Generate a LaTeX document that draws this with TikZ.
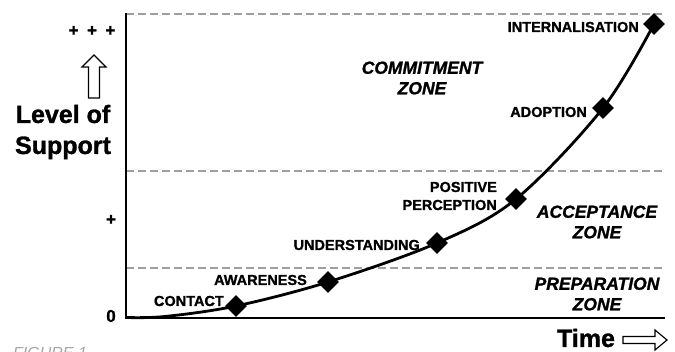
\documentclass[tikz,border=0pt]{standalone}
\usepackage{fontspec}
\setmainfont{Liberation Sans}[BoldFeatures={FakeBold=1.2}, BoldItalicFeatures={FakeBold=1.2}]
\usetikzlibrary{shapes.geometric, positioning}

\begin{document}
\begin{tikzpicture}[x=1pt, y=-1pt,
    stage/.style={diamond, fill=black, inner sep=0pt, minimum size=22pt},
    stage_label/.style={font=\fontsize{14.5}{18}\selectfont\bfseries, inner sep=0pt},
    zone_label/.style={font=\fontsize{17.5}{20.5}\selectfont\bfseries\itshape, align=center, inner sep=0pt},
    scale_label/.style={font=\fontsize{17}{18}\selectfont\bfseries, inner sep=0pt},
    axis_title/.style={font=\fontsize{25}{31}\selectfont\bfseries, inner sep=0pt},
    zone_line/.style={draw=gray!75, line width=2pt, dash pattern=on 8pt off 4pt},
    axis_line/.style={draw=black, line width=2.6pt},
    curve_line/.style={draw=black, line width=2.8pt},
    hollow_arrow/.style={draw=black, line width=1.2pt, fill=white, line join=miter}
]

\useasboundingbox (0,0) rectangle (675,352);

% Axis corners and zone borders
\coordinate (top) at (126,13);
\coordinate (origin) at (126,318);
\coordinate (xend) at (665,318);
\coordinate (knee) at (165,316.5);

% Zone borders
\draw[zone_line] (126,14) -- (665,14);
\draw[zone_line] (126,171) -- (665,171);
\draw[zone_line] (126,268) -- (665,268);

% Axes
\draw[axis_line] (top) -- (origin) -- (xend);

% Stages on the curve
\node[stage] (contact) at (236,306) {};
\node[stage] (awareness) at (328,282) {};
\node[stage] (understanding) at (437,243) {};
\node[stage] (positive) at (516,199) {};
\node[stage] (adoption) at (603,108) {};
\node[stage] (internal) at (654,24) {};

% Support curve
\draw[curve_line] plot[smooth, tension=0.55] coordinates {(126,317.5) (knee) (contact) (awareness) (understanding) (positive) (adoption) (internal)};

% Stage labels
\node[stage_label, anchor=east] (contact_txt) at (224,301) {CONTACT};
\node[stage_label, anchor=east] (awareness_txt) at (307,280) {AWARENESS};
\node[stage_label, anchor=east] (understanding_txt) at (420,245) {UNDERSTANDING};
\node[stage_label, anchor=east, align=right] (positive_txt) at (497,196) {POSITIVE\\PERCEPTION};
\node[stage_label, anchor=east] (adoption_txt) at (587,112) {ADOPTION};
\node[stage_label, anchor=east] (internal_txt) at (639,27) {INTERNALISATION};

% Zone labels
\node[zone_label] (commit_txt) at (422,78) {COMMITMENT\\ZONE};
\node[zone_label] (accept_txt) at (597,222) {ACCEPTANCE\\ZONE};
\node[zone_label] (prep_txt) at (597,294) {PREPARATION\\ZONE};

% Scale marks
\node[scale_label] (high) at (92,31) {+\enspace+\enspace+};
\node[scale_label] (mid) at (111,220) {+};
\node[scale_label] (zero) at (111,316) {0};

% Axis titles
\node[axis_title, align=center] (support_txt) at (63,132) {Level of\\Support};
\node[axis_title] (time_txt) at (586,338) {Time};

% Hollow arrows
\draw[hollow_arrow] (94,55) -- (106,67) -- (99.5,67) -- (99.5,98) -- (88.5,98) -- (88.5,67) -- (82,67) -- cycle;
\draw[hollow_arrow] (667,340) -- (655,330) -- (655,336.5) -- (623,336.5) -- (623,343.5) -- (655,343.5) -- (655,350) -- cycle;

% Caption
\node[font=\fontsize{16}{18}\selectfont\itshape, text=gray!70, anchor=north west, inner sep=0pt] (caption) at (13,347) {FIGURE 1};

\end{tikzpicture}
\end{document}
